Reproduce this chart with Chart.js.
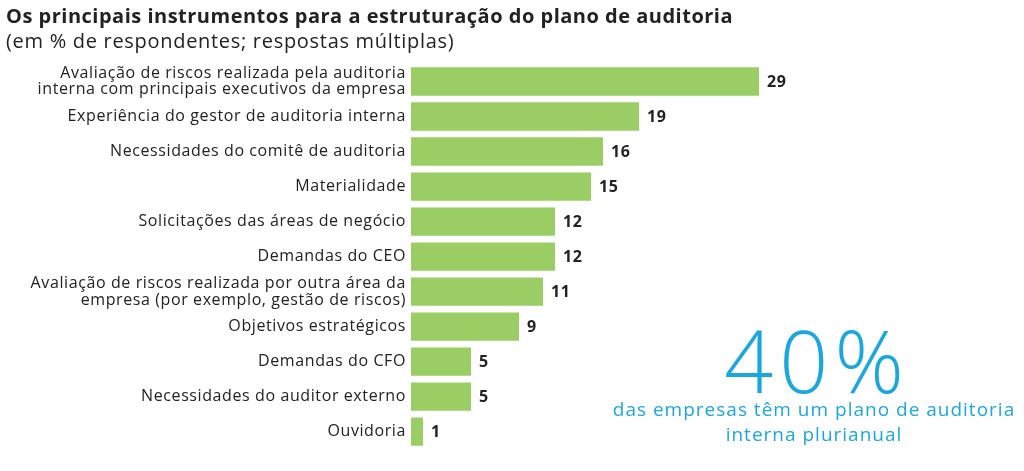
<!DOCTYPE html>
<html>
<head>
<meta charset="utf-8">
<script src="https://cdn.jsdelivr.net/npm/chart.js@4"></script>
<style>
  body { margin: 0; background: #fff; font-family: "Open Sans", sans-serif; }
  #wrap { position: relative; width: 1024px; height: 471px; }
  #chart { position: absolute; left: 0; top: 0; }
  .title { position: absolute; left: 6px; top: 6px; font-size: 20px; line-height: 20px; font-weight: bold; color: #222; letter-spacing: 0.5px; white-space: nowrap; }
  .sub { position: absolute; left: 6px; top: 31px; font-size: 20px; line-height: 20px; color: #222; letter-spacing: 0.7px; white-space: nowrap; }
  .big { position: absolute; left: 603px; width: 428px; top: 317px; text-align: center; font-size: 86px; font-weight: 300; color: #1aa7df; line-height: 1; letter-spacing: 6px; }
  .note { position: absolute; left: 600px; width: 428px; top: 397px; text-align: center; font-size: 19px; color: #1aa7df; line-height: 25px; letter-spacing: 1px; white-space: nowrap; }
</style>
</head>
<body>
<div id="wrap">
  <canvas id="chart" width="1024" height="471"></canvas>
  <div class="title">Os principais instrumentos para a estruturação do plano de auditoria</div>
  <div class="sub">(em % de respondentes; respostas múltiplas)</div>
  <div class="big">40%</div>
  <div class="note">das empresas têm um plano de auditoria<br>interna plurianual</div>
</div>
<script>
// categories and values (% of respondents)
const categories = [
    ['Avaliação de riscos realizada pela auditoria', 'interna com principais executivos da empresa'],
    'Experiência do gestor de auditoria interna',
    'Necessidades do comitê de auditoria',
    'Materialidade',
    'Solicitações das áreas de negócio',
    'Demandas do CEO',
    ['Avaliação de riscos realizada por outra área da', 'empresa (por exemplo, gestão de riscos)'],
    'Objetivos estratégicos',
    'Demandas do CFO',
    'Necessidades do auditor externo',
    'Ouvidoria'
];
const values = [29, 19, 16, 15, 12, 12, 11, 9, 5, 5, 1];

// slightly wider letter spacing for the canvas text
const spacing = {
    id: 'spacing',
    beforeDraw(chart) { chart.ctx.letterSpacing = '0.6px'; },
    afterDraw(chart) { chart.ctx.letterSpacing = '0px'; }
};

// value labels next to each bar
const barLabels = {
    id: 'barLabels',
    afterDatasetsDraw(chart) {
        const ctx = chart.ctx;
        ctx.save();
        ctx.font = 'bold 16px "Open Sans"';
        ctx.letterSpacing = '0.5px';
        ctx.fillStyle = '#222';
        ctx.textBaseline = 'middle';
        chart.getDatasetMeta(0).data.forEach((bar, i) => {
            ctx.fillText(values[i], bar.x + 8, bar.y + 1);
        });
        ctx.restore();
    }
};

new Chart(document.getElementById('chart'), {
    type: 'bar',
    data: {
        labels: categories,
        datasets: [{
            data: values,
            backgroundColor: '#9acd63',
            categoryPercentage: 1,
            barPercentage: 0.81
        }]
    },
    options: {
        indexAxis: 'y',
        responsive: false,
        animation: false,
        layout: { padding: { top: 64, bottom: 13, right: 13, left: 0 } },
        plugins: { legend: { display: false }, tooltip: { enabled: false } },
        scales: {
            x: { display: false, min: 0, max: 50 },
            y: {
                grid: { display: false, drawTicks: false },
                border: { display: false },
                ticks: {
                    autoSkip: false,
                    color: '#222',
                    font: { family: 'Open Sans', size: 16, lineHeight: 1.05 },
                    padding: 5
                },
                afterFit(scale) { scale.width = 411; }
            }
        }
    },
    plugins: [spacing, barLabels]
});
</script>
</body>
</html>
